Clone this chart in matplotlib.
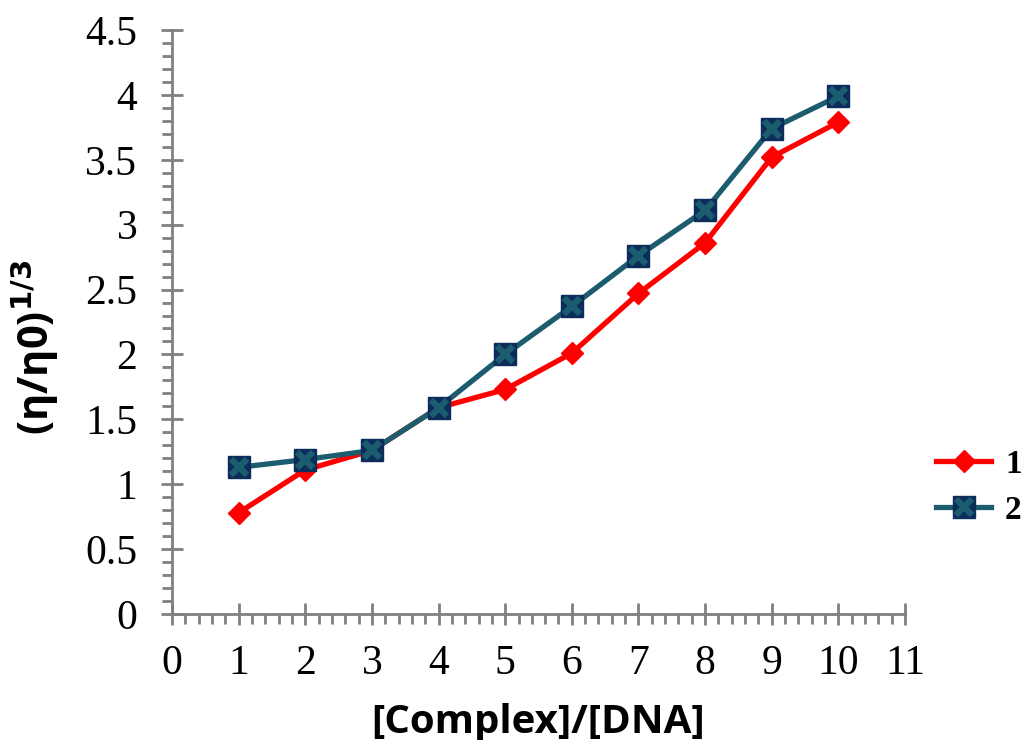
import matplotlib
matplotlib.use("Agg")
import matplotlib.pyplot as plt
import matplotlib.lines as mlines
from matplotlib.ticker import MultipleLocator, FuncFormatter

x = [1, 2, 3, 4, 5, 6, 7, 8, 9, 10]
series1 = [0.78, 1.11, 1.26, 1.59, 1.73, 2.01, 2.47, 2.86, 3.52, 3.79]
series2 = [1.13, 1.19, 1.26, 1.59, 2.00, 2.37, 2.76, 3.11, 3.74, 3.99]
labels = ["1", "2"]

red = "#ff0000"
teal = "#1b5d6e"
navy = "#0c2d5c"
gray = "#808080"

fig = plt.figure(figsize=(10.21, 7.40), dpi=100)
ax = fig.add_axes([172/1021, 1-614/740, (905-172)/1021, (614-30)/740])

ax.plot(x, series1, color=red, lw=3.8, marker="D", ms=11,
        mfc=red, mec=red, zorder=3)
ax.plot(x, series2, color=teal, lw=3.8, marker="s", ms=16,
        mfc=navy, mec=navy, zorder=4)
ax.plot(x, series2, ls="none", marker="x", ms=11, mew=4.5, mec=teal,
        zorder=5)

ax.set_xlim(0, 11)
ax.set_ylim(0, 4.5)
ax.xaxis.set_major_locator(MultipleLocator(1))
ax.xaxis.set_minor_locator(MultipleLocator(0.2))
ax.yaxis.set_major_locator(MultipleLocator(0.5))
ax.yaxis.set_minor_locator(MultipleLocator(0.1))
ax.yaxis.set_major_formatter(FuncFormatter(lambda v, p: "%g" % v))
ax.xaxis.set_major_formatter(FuncFormatter(lambda v, p: "%g" % v))

for s in ["top", "right"]:
    ax.spines[s].set_visible(False)
for s in ["left", "bottom"]:
    ax.spines[s].set_color(gray)
    ax.spines[s].set_linewidth(2)

ax.tick_params(which="major", direction="inout", length=16, width=2,
               color=gray, labelsize=30)
ax.tick_params(which="minor", direction="out", length=7.5, width=2,
               color=gray)
ax.tick_params(axis="y", which="major", pad=17)
ax.tick_params(axis="x", which="major", pad=14)
for lab in ax.get_xticklabels() + ax.get_yticklabels():
    lab.set_fontfamily("Liberation Serif")

ax.set_xlabel("[Complex]/[DNA]", fontsize=29, fontweight="bold",
              family="Open Sans")
ax.xaxis.set_label_coords(0.499, -0.152)
ax.set_ylabel(r"(η/η0)$^{\mathbf{1/3}}$", fontsize=30, fontweight="bold",
              family="Open Sans")
ax.yaxis.set_label_coords(-0.152, 0.457)

h1 = mlines.Line2D([], [], color=red, lw=3.8, marker="D", ms=11,
                   mfc=red, mec=red)
h2a = mlines.Line2D([], [], color=teal, lw=3.8, marker="s", ms=16,
                    mfc=navy, mec=navy)
h2b = mlines.Line2D([], [], ls="none", marker="x", ms=11, mew=4.5, mec=teal)
fig.legend([h1, (h2a, h2b)], labels, loc="center left",
           bbox_to_anchor=(0.9168, 0.341), frameon=False,
           prop={"family": "Liberation Serif", "weight": "bold", "size": 24},
           handlelength=1.65, handletextpad=0.42, labelspacing=0.45,
           borderpad=0, borderaxespad=0)

fig.savefig("out.png", dpi=100)
